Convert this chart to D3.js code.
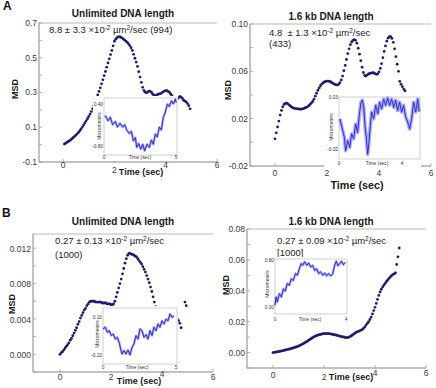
<!DOCTYPE html>
<html><head><meta charset="utf-8">
<script src="https://cdn.jsdelivr.net/npm/d3@7/dist/d3.min.js"></script>
<style>
body{margin:0;background:#fff;}
svg{display:block;}
text{font-family:"Liberation Sans",Arial,sans-serif;white-space:pre;}
</style></head><body>
<svg id="c" width="436" height="388"></svg>
<script>
// ---------------- DATA ----------------
const titles = ["Unlimited DNA length","1.6 kb DNA length","Unlimited DNA length","1.6 kb DNA length"];
const panelLetters = ["A","B"];
const xTickValues = [0,2,4,6];
const xTickLabels = ["0","2","4","6"];
const yTicksALeft = [0.7,0.5,0.3,0.1,-0.1];
const yLabelsALeft = ["0.7","0.5","0.3","0.1","-0.1"];
const yTicksARight = [0.10,0.06,0.02,-0.02];
const yLabelsARight = ["0.10","0.06","0.02","-0.02"];
const yTicksBLeft = [0.012,0.008,0.004,0.000];
const yLabelsBLeft = ["0.012","0.008","0.004","0.000"];
const yTicksBRight = [0.08,0.06,0.04,0.02,0.00];
const yLabelsBRight = ["0.08","0.06","0.04","0.02","0.00"];
const annotHead = ["8.8 ± 3.3 ×10","4.8  ± 1.3 ×10","0.27 ± 0.13 ×10","0.27 ± 0.09 ×10"];
const annotTail = ["/sec (994)","/sec","/sec","/sec"];
const annotLine2 = ["","(433)","(1000)","[1000]"];

// MSD vs time [t (sec), MSD]
const msdALeft = [[0.05,0.003],[0.10,0.008],[0.15,0.013],[0.20,0.018],[0.25,0.023],[0.30,0.028],[0.35,0.034],[0.40,0.041],[0.45,0.048],[0.50,0.055],[0.55,0.062],[0.60,0.070],[0.65,0.080],[0.70,0.090],[0.75,0.101],[0.80,0.113],[0.85,0.125],[0.90,0.137],[0.95,0.149],[1.00,0.162],[1.05,0.176],[1.10,0.190],[1.15,0.206],[1.20,0.224],[1.25,0.244],[1.30,0.266],[1.35,0.286],[1.40,0.306],[1.45,0.327],[1.50,0.350],[1.55,0.373],[1.60,0.397],[1.65,0.421],[1.70,0.446],[1.75,0.470],[1.80,0.494],[1.85,0.518],[1.90,0.542],[1.95,0.568],[2.00,0.595],[2.05,0.607],[2.10,0.615],[2.15,0.620],[2.20,0.621],[2.25,0.618],[2.30,0.613],[2.35,0.608],[2.40,0.602],[2.45,0.596],[2.50,0.589],[2.55,0.580],[2.60,0.570],[2.65,0.558],[2.70,0.542],[2.75,0.520],[2.80,0.497],[2.85,0.475],[2.90,0.450],[2.95,0.420],[3.00,0.389],[3.05,0.358],[3.10,0.330],[3.15,0.312],[3.20,0.302],[3.25,0.299],[3.30,0.303],[3.35,0.308],[3.40,0.307],[3.45,0.300],[3.50,0.290],[3.55,0.283],[3.60,0.282],[3.65,0.286],[3.70,0.290],[3.75,0.292],[3.80,0.294],[3.85,0.298],[3.90,0.304],[3.95,0.308],[4.00,0.311],[4.05,0.310],[4.10,0.306],[4.15,0.300],[4.20,0.290],[4.25,0.280],[4.30,0.272],[4.35,0.265],[4.40,0.258],[4.45,0.262],[4.50,0.270],[4.55,0.276],[4.60,0.274],[4.65,0.266],[4.70,0.256],[4.75,0.250],[4.80,0.246],[4.85,0.236],[4.90,0.224],[4.95,0.206]];
const msdARight = [[0.00,0.003],[0.05,0.008],[0.10,0.013],[0.15,0.018],[0.20,0.023],[0.25,0.027],[0.30,0.030],[0.35,0.032],[0.40,0.033],[0.45,0.0332],[0.50,0.0325],[0.55,0.0315],[0.60,0.0305],[0.65,0.0297],[0.70,0.0290],[0.75,0.0287],[0.80,0.0285],[0.85,0.0283],[0.90,0.0282],[0.95,0.0280],[1.00,0.0280],[1.05,0.0282],[1.10,0.0285],[1.15,0.0290],[1.20,0.0295],[1.25,0.0300],[1.30,0.0310],[1.35,0.0320],[1.40,0.0332],[1.45,0.0345],[1.50,0.0365],[1.55,0.0390],[1.60,0.0415],[1.65,0.0440],[1.70,0.0460],[1.75,0.0478],[1.80,0.0492],[1.85,0.0502],[1.90,0.0510],[1.95,0.0515],[2.00,0.0518],[2.05,0.0518],[2.10,0.0515],[2.15,0.0510],[2.20,0.0502],[2.25,0.0496],[2.30,0.0490],[2.35,0.0486],[2.40,0.0485],[2.45,0.0490],[2.50,0.0505],[2.55,0.0527],[2.60,0.0560],[2.65,0.0605],[2.70,0.0650],[2.75,0.0700],[2.80,0.0750],[2.85,0.0790],[2.90,0.0825],[2.95,0.0848],[3.00,0.0862],[3.05,0.0868],[3.10,0.0862],[3.15,0.0838],[3.20,0.0795],[3.25,0.0745],[3.30,0.0690],[3.35,0.0635],[3.40,0.0590],[3.45,0.0565],[3.50,0.0560],[3.55,0.0570],[3.60,0.0578],[3.65,0.0582],[3.70,0.0585],[3.75,0.0588],[3.80,0.0586],[3.85,0.0580],[3.90,0.0575],[3.95,0.0578],[4.00,0.0595],[4.05,0.0625],[4.10,0.0665],[4.15,0.0715],[4.20,0.0768],[4.25,0.0815],[4.30,0.0855],[4.35,0.0880],[4.40,0.0893],[4.45,0.0893],[4.50,0.0878],[4.55,0.0845],[4.60,0.0790],[4.65,0.0725],[4.70,0.0660],[4.75,0.0600],[4.80,0.0515],[4.85,0.0490],[4.90,0.0470],[4.95,0.0450],[5.00,0.0436]];
const msdBLeft = [[0.00,0.0001],[0.05,0.0003],[0.10,0.0004],[0.15,0.0006],[0.20,0.0008],[0.25,0.0010],[0.30,0.0012],[0.35,0.0014],[0.40,0.0017],[0.45,0.0019],[0.50,0.0022],[0.55,0.0025],[0.60,0.0028],[0.65,0.0031],[0.70,0.0035],[0.75,0.0038],[0.80,0.0042],[0.85,0.0045],[0.90,0.0048],[0.95,0.0051],[1.00,0.0053],[1.05,0.0056],[1.10,0.0058],[1.15,0.0060],[1.20,0.0061],[1.25,0.0061],[1.30,0.0061],[1.35,0.0061],[1.40,0.0060],[1.45,0.0060],[1.50,0.0060],[1.55,0.0060],[1.60,0.0060],[1.65,0.0059],[1.70,0.0059],[1.75,0.0059],[1.80,0.0059],[1.85,0.0058],[1.90,0.0058],[1.95,0.0058],[2.00,0.0057],[2.05,0.0057],[2.10,0.0058],[2.15,0.0061],[2.20,0.0066],[2.25,0.0071],[2.30,0.0076],[2.35,0.0081],[2.40,0.0086],[2.45,0.0092],[2.50,0.0098],[2.55,0.0104],[2.60,0.0109],[2.65,0.0113],[2.70,0.0115],[2.75,0.0115],[2.80,0.0114],[2.85,0.0114],[2.90,0.0113],[2.95,0.0112],[3.00,0.0111],[3.05,0.0109],[3.10,0.0107],[3.15,0.0105],[3.20,0.0103],[3.25,0.0100],[3.30,0.0097],[3.35,0.0094],[3.40,0.0090],[3.45,0.0086],[3.50,0.0082],[3.55,0.0077],[3.60,0.0072],[3.65,0.0066],[3.70,0.0060],[3.75,0.0055],[3.80,0.0050],[3.85,0.0046],[3.90,0.0043],[3.95,0.0041],[4.00,0.0040],[4.05,0.0040],[4.10,0.0041],[4.15,0.0042],[4.20,0.0043],[4.25,0.0043],[4.30,0.0042],[4.35,0.0041],[4.40,0.0040],[4.45,0.0040],[4.50,0.0041],[4.55,0.0040],[4.60,0.0041],[4.65,0.0039],[4.70,0.0036],[4.75,0.0031],[4.90,0.0060],[4.95,0.0056]];
const msdBRight = [[0.00,0.0000],[0.05,0.0001],[0.10,0.0003],[0.15,0.0004],[0.20,0.0006],[0.25,0.0007],[0.30,0.0009],[0.35,0.0011],[0.40,0.0013],[0.45,0.0015],[0.50,0.0017],[0.55,0.0019],[0.60,0.0021],[0.65,0.0023],[0.70,0.0025],[0.75,0.0028],[0.80,0.0030],[0.85,0.0033],[0.90,0.0036],[0.95,0.0039],[1.00,0.0042],[1.05,0.0046],[1.10,0.0050],[1.15,0.0054],[1.20,0.0059],[1.25,0.0064],[1.30,0.0069],[1.35,0.0074],[1.40,0.0080],[1.45,0.0085],[1.50,0.0091],[1.55,0.0096],[1.60,0.0101],[1.65,0.0105],[1.70,0.0109],[1.75,0.0112],[1.80,0.0115],[1.85,0.0117],[1.90,0.0119],[1.95,0.0121],[2.00,0.0122],[2.05,0.0123],[2.10,0.0123],[2.15,0.0123],[2.20,0.0122],[2.25,0.0121],[2.30,0.0119],[2.35,0.0117],[2.40,0.0116],[2.45,0.0114],[2.50,0.0112],[2.55,0.0110],[2.60,0.0107],[2.65,0.0105],[2.70,0.0103],[2.75,0.0101],[2.80,0.0099],[2.85,0.0097],[2.90,0.0097],[2.95,0.0098],[3.00,0.0101],[3.05,0.0106],[3.10,0.0112],[3.15,0.0118],[3.20,0.0124],[3.25,0.0130],[3.30,0.0134],[3.35,0.0137],[3.40,0.0141],[3.45,0.0145],[3.50,0.0149],[3.55,0.0156],[3.60,0.0166],[3.65,0.0178],[3.70,0.0189],[3.75,0.0200],[3.80,0.0214],[3.85,0.0230],[3.90,0.0250],[3.95,0.0272],[4.00,0.0293],[4.05,0.0318],[4.10,0.0344],[4.15,0.0370],[4.20,0.0392],[4.25,0.0410],[4.30,0.0425],[4.35,0.0437],[4.40,0.0448],[4.45,0.0460],[4.50,0.0470],[4.55,0.0480],[4.60,0.0490],[4.65,0.0498],[4.70,0.0505],[4.75,0.0510],[4.80,0.0515],[4.85,0.0570],[4.90,0.0620],[4.95,0.0677]];

// Inset traces: displacement (micrometers) vs time (sec)
const insetALeft = [[0.05,0.03],[0.12,0.05],[0.28,-0.08],[0.44,0.02],[0.6,-0.19],[0.79,-0.10],[0.93,-0.26],[1.11,-0.15],[1.3,-0.26],[1.44,-0.19],[1.57,-0.34],[1.76,-0.44],[1.9,-0.38],[2.04,-0.65],[2.18,-0.56],[2.27,-0.84],[2.41,-0.73],[2.55,-0.89],[2.69,-0.75],[2.82,-0.94],[2.99,-0.75],[3.15,-0.84],[3.29,-0.63],[3.43,-0.75],[3.56,-0.46],[3.7,-0.54],[3.84,-0.26],[3.98,-0.34],[4.12,0.02],[4.26,0.17],[4.4,0.40],[4.54,0.33],[4.68,0.49],[4.82,0.40],[4.96,0.54],[5.0,0.44]];
const insetARight = [[0.06,0.009],[0.21,-0.0007],[0.34,-0.0087],[0.42,-0.0216],[0.55,-0.012],[0.68,-0.0184],[0.8,-0.0055],[0.93,-0.010],[1.06,0.004],[1.18,-0.004],[1.31,0.0155],[1.4,0.025],[1.48,0.027],[1.57,0.020],[1.65,0.0026],[1.74,-0.010],[1.82,-0.025],[1.9,-0.0136],[1.99,0.0026],[2.07,0.0155],[2.2,0.009],[2.33,0.022],[2.46,0.014],[2.58,0.025],[2.71,0.0187],[2.84,0.028],[2.96,0.022],[3.09,0.029],[3.22,0.022],[3.34,0.028],[3.47,0.020],[3.6,0.027],[3.72,0.017],[3.85,0.025],[3.98,0.0155],[4.1,0.022],[4.23,0.011],[4.36,0.006],[4.49,-0.0007],[4.61,0.009],[4.74,0.025],[4.87,0.0155],[5.0,0.028],[5.08,0.016]];
const insetBLeft = [[0.0,0.037],[0.16,0.046],[0.3,0.019],[0.43,0.028],[0.57,0.002],[0.71,0.01],[0.84,-0.016],[0.98,-0.007],[1.12,-0.038],[1.21,-0.068],[1.3,-0.095],[1.44,-0.077],[1.57,-0.095],[1.71,-0.074],[1.85,-0.10],[1.99,-0.06],[2.12,-0.042],[2.26,0.002],[2.4,-0.016],[2.53,0.037],[2.67,0.028],[2.81,-0.007],[2.95,0.007],[3.08,-0.016],[3.22,0.028],[3.36,0.002],[3.49,0.046],[3.63,0.028],[3.77,0.063],[3.9,0.046],[4.04,0.08],[4.18,0.063],[4.32,0.089],[4.45,0.08],[4.59,0.116],[4.73,0.098],[4.86,0.107]];
const insetBRight = [[0.0,0.03],[0.06,0.17],[0.13,0.085],[0.24,0.226],[0.36,0.17],[0.47,0.31],[0.58,0.27],[0.69,0.40],[0.81,0.37],[0.92,0.48],[1.03,0.45],[1.15,0.57],[1.26,0.54],[1.37,0.65],[1.48,0.74],[1.56,0.71],[1.67,0.77],[1.79,0.71],[1.9,0.75],[2.01,0.68],[2.12,0.71],[2.24,0.62],[2.35,0.65],[2.46,0.57],[2.57,0.60],[2.69,0.54],[2.8,0.58],[2.91,0.53],[3.02,0.57],[3.14,0.53],[3.25,0.56],[3.35,0.70],[3.45,0.78],[3.55,0.70],[3.65,0.74],[3.75,0.78],[3.85,0.72],[3.95,0.76]];
const insetYLabels = [["0.40","-0.80"],["0.03","-0.02"],["0.10","-0.10"],["0.80","0.00"]];
const insetYValues = [[0.40,-0.80],[0.03,-0.02],[0.10,-0.10],[0.80,0.00]];
const insetXLabels = [["0","5"],["0","4"],["0","5"],["0","4"]];
const insetXValues = [[0,5],[0,4],[0,5],[0,4]];

// ---------------- LAYOUT ----------------
const svg = d3.select("#c");
const dotColor = "#1d1d6c";
const panels = [
 {data:msdALeft, yT:yTicksALeft, yL:yLabelsALeft, x0:39,x1:217,y0:23,y1:162, xd:[-0.94,6], yd:[-0.1,0.7], minorStep:0.1,
  tx:123, ty:17, xlb:[168,173,168,168], timeX:141, timeY:175, timeFs:9, msdX:15, msdY:89, ax:49, ay:33, ay2:0,
  ins:{box:[93,96,178,161], fr:[104,98,177,155], xd:[0,5], xr:[104,176], yd:[-0.80,0.40], yr:[146,104], time:[140,158.5], micro:[99.5,126], band:2.4, data:insetALeft}},
 {data:msdARight, yT:yTicksARight, yL:yLabelsARight, x0:250,x1:431,y0:24,y1:166, xd:[-0.96,6], yd:[-0.02,0.10], minorStep:0.02,
  tx:331, ty:20, xlb:[175.5,175.5,175.5,175.5], timeX:357, timeY:188.5, timeFs:10.8, msdX:228, msdY:90, ax:269, ay:36, ay2:47,
  ins:{box:[324,95,421,167], fr:[339,97,420,159], xd:[0,4], xr:[339,402], yd:[-0.02,0.03], yr:[149,97], time:[377,164.5], micro:[331.5,127], band:3.6, data:insetARight}},
 {data:msdBLeft, yT:yTicksBLeft, yL:yLabelsBLeft, x0:33,x1:213,y0:234,y1:372, xd:[-1.06,6], yd:[-0.0019,0.0137], minorStep:0.002,
  tx:123, ty:225, xlb:[380,380,377,380], timeX:139, timeY:384, timeFs:9, msdX:12, msdY:304, ax:55, ay:244, ay2:258,
  ins:{box:[90,306,178,371], fr:[103,308,177,364], xd:[0,5], xr:[103,176], yd:[-0.10,0.10], yr:[355,317], time:[137,369], micro:[97.5,334], band:2.4, data:insetBLeft}},
 {data:msdBRight, yT:yTicksBRight, yL:yLabelsBRight, x0:247,x1:426,y0:229,y1:368, xd:[-1.02,6], yd:[-0.01,0.08], minorStep:0.01,
  tx:331, ty:225, xlb:[378,380,376,376], timeX:351, timeY:380, timeFs:9, msdX:226, msdY:285, ax:277, ay:244, ay2:256,
  ins:{box:[262,257,348,322], fr:[275,259,347,314], xd:[0,4], xr:[275,346], yd:[0,0.80], yr:[307,260], time:[310,320.5], micro:[267.5,284], band:2.4, data:insetBRight}}
];

// panel letters
svg.append("text").attr("x",3).attr("y",10).attr("font-size",12).attr("font-weight","bold").attr("fill","#111").text(panelLetters[0]);
svg.append("text").attr("x",2).attr("y",217).attr("font-size",12).attr("font-weight","bold").attr("fill","#111").text(panelLetters[1]);

panels.forEach((p,i)=>{
  const g = svg.append("g");
  const x = d3.scaleLinear().domain(p.xd).range([p.x0,p.x1]);
  const y = d3.scaleLinear().domain(p.yd).range([p.y1,p.y0]);
  // frame
  g.append("line").attr("x1",p.x0).attr("x2",p.x1).attr("y1",p.y0).attr("y2",p.y0).attr("stroke","#b8b8b8").attr("stroke-width",1);
  g.append("line").attr("x1",p.x0).attr("x2",p.x0).attr("y1",p.y0).attr("y2",p.y1).attr("stroke","#858585").attr("stroke-width",1);
  g.append("line").attr("x1",p.x0).attr("x2",p.x1).attr("y1",p.y1).attr("y2",p.y1).attr("stroke","#858585").attr("stroke-width",1);
  // y ticks (inward)
  const minor = d3.range(p.yd[0], p.yd[1]+1e-9, p.minorStep).filter(v=>y(v)>=p.y0-0.5 && y(v)<=p.y1+0.5);
  g.selectAll(".ym").data(minor).join("line").attr("x1",p.x0).attr("x2",p.x0+3)
    .attr("y1",d=>y(d)).attr("y2",d=>y(d)).attr("stroke","#9a9a9a").attr("stroke-width",0.8);
  g.selectAll(".yl").data(p.yT).join("text").attr("x",p.x0-2).attr("y",d=>y(d)).attr("dy","0.35em")
    .attr("text-anchor","end").attr("font-size",8.5).attr("fill","#3a3a3a").text((d,k)=>p.yL[k]);
  // x ticks
  g.selectAll(".xt").data(xTickValues).join("line").attr("x1",d=>x(d)).attr("x2",d=>x(d))
    .attr("y1",p.y1).attr("y2",p.y1-3).attr("stroke","#9a9a9a").attr("stroke-width",0.8);
  g.selectAll(".xl").data(xTickValues).join("text").attr("x",d=>x(d)).attr("y",(d,k)=>p.xlb[k])
    .attr("text-anchor","middle").attr("font-size",8.5).attr("fill","#3a3a3a").text((d,k)=>xTickLabels[k]);
  // title and axis titles
  g.append("text").attr("x",p.tx).attr("y",p.ty).attr("text-anchor","middle").attr("font-size",10)
    .attr("font-weight","bold").attr("fill","#1a1a1a").text(titles[i]);
  g.append("text").attr("x",p.timeX).attr("y",p.timeY).attr("text-anchor","middle").attr("font-size",p.timeFs)
    .attr("font-weight","bold").attr("fill","#1a1a1a").text("Time (sec)");
  g.append("text").attr("transform",`translate(${p.msdX},${p.msdY}) rotate(-90)`).attr("text-anchor","middle")
    .attr("dy","0.35em").attr("font-size",9).attr("font-weight","bold").attr("fill","#1a1a1a").text("MSD");
  // dots
  g.selectAll(".d").data(p.data).join("circle").attr("cx",d=>x(d[0])).attr("cy",d=>y(d[1]))
    .attr("r",1.4).attr("fill",dotColor);
  // annotation
  const t = g.append("text").attr("x",p.ax).attr("y",p.ay).attr("font-size",9.5).attr("fill","#222");
  t.append("tspan").text(annotHead[i]);
  t.append("tspan").attr("dy",-3.5).attr("font-size",6.5).text("-2");
  t.append("tspan").attr("dy",3.5).text(" µm");
  t.append("tspan").attr("dy",-3.5).attr("font-size",6.5).text("2");
  t.append("tspan").attr("dy",3.5).text(annotTail[i]);
  if (annotLine2[i]) g.append("text").attr("x",p.ax).attr("y",p.ay2).attr("font-size",9.5).attr("fill","#222").text(annotLine2[i]);

  // inset
  const s = p.ins;
  const ig = svg.append("g");
  ig.append("rect").attr("x",s.box[0]).attr("y",s.box[1]).attr("width",s.box[2]-s.box[0]).attr("height",s.box[3]-s.box[1]).attr("fill","#fff");
  ig.append("rect").attr("x",s.fr[0]).attr("y",s.fr[1]).attr("width",s.fr[2]-s.fr[0]).attr("height",s.fr[3]-s.fr[1])
    .attr("fill","#fff").attr("stroke","#c4c4c4").attr("stroke-width",0.8);
  const ix = d3.scaleLinear().domain(s.xd).range(s.xr);
  const iy = d3.scaleLinear().domain(s.yd).range(s.yr);
  const line = d3.line().x(d=>ix(d[0])).y(d=>iy(d[1]));
  ig.append("path").datum(s.data).attr("d",line).attr("fill","none").attr("stroke","#8c8cf2").attr("stroke-opacity",0.75)
    .attr("stroke-width",s.band).attr("stroke-linejoin","round");
  ig.append("path").datum(s.data).attr("d",line).attr("fill","none").attr("stroke","#2323d8")
    .attr("stroke-width",0.9).attr("stroke-linejoin","round");
  ig.selectAll(".iyl").data(insetYValues[i]).join("text").attr("x",s.fr[0]-1).attr("y",d=>iy(d)).attr("dy","0.35em")
    .attr("text-anchor","end").attr("font-size",4.8).attr("fill","#333").text((d,k)=>insetYLabels[i][k]);
  ig.selectAll(".ixl").data(insetXValues[i]).join("text").attr("x",d=>ix(d)).attr("y",s.time[1])
    .attr("text-anchor","middle").attr("font-size",4.8).attr("fill","#333").text((d,k)=>insetXLabels[i][k]);
  ig.append("text").attr("x",s.time[0]).attr("y",s.time[1]).attr("text-anchor","middle").attr("font-size",4.8)
    .attr("fill","#333").text("Time (sec)");
  ig.append("text").attr("transform",`translate(${s.micro[0]},${s.micro[1]}) rotate(-90)`).attr("text-anchor","middle")
    .attr("dy","0.35em").attr("font-size",5).attr("fill","#333").text("Micrometers");
});
</script>
</body></html>
